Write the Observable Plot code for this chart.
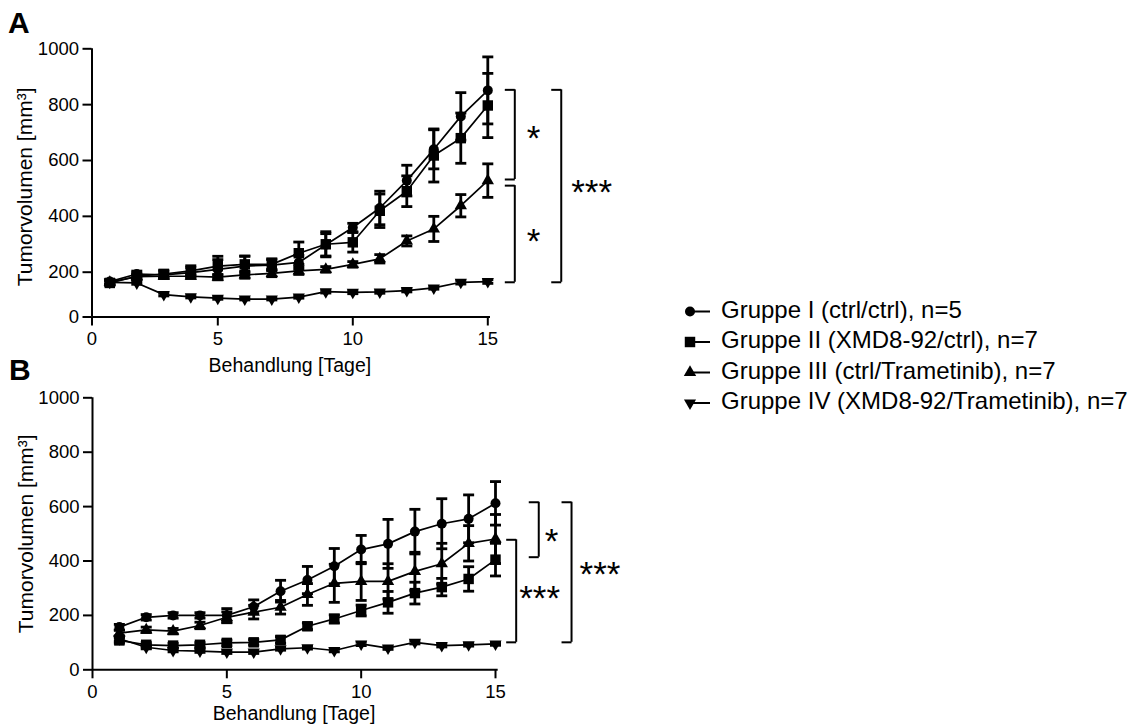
<!DOCTYPE html>
<html>
<head>
<meta charset="utf-8">
<script src="https://cdn.jsdelivr.net/npm/d3@7"></script>
<script src="https://cdn.jsdelivr.net/npm/@observablehq/plot@0.6"></script>
<style>
  html, body { margin: 0; padding: 0; background: #fff; }
  #wrap { position: relative; width: 1146px; height: 726px; overflow: hidden; background: #fff;
          font-family: "Liberation Sans", Arial, sans-serif; color: #000; }
  .abs { position: absolute; left: 0; }
  .letter { position: absolute; font-weight: bold; font-size: 30px; line-height: 30px; }
  #wrap svg [aria-label^="x-axis"] line, #wrap svg [aria-label^="x-axis"] path,
  #wrap svg [aria-label^="y-axis"] line, #wrap svg [aria-label^="y-axis"] path { stroke-width: 2px; }
</style>
</head>
<body>
<div id="wrap">
  <div id="panelA" class="abs" style="top:0px"></div>
  <div id="panelB" class="abs" style="top:382px"></div>
  <div id="legend" class="abs" style="left:680px; top:290px"></div>
  <div class="letter" style="left:8px; top:8px">A</div>
  <div class="letter" style="left:9px; top:355px">B</div>
</div>
<script>
// ---------- data ----------
const days = [1, 2, 3, 4, 5, 6, 7, 8, 9, 10, 11, 12, 13, 14, 15];
const groups = [
  "Gruppe I (ctrl/ctrl), n=5",
  "Gruppe II (XMD8-92/ctrl), n=7",
  "Gruppe III (ctrl/Trametinib), n=7",
  "Gruppe IV (XMD8-92/Trametinib), n=7"
];
const xTicks = [0, 5, 10, 15];
const yTicks = [0, 200, 400, 600, 800, 1000];
const xLabel = "Behandlung [Tage]";
const yLabel = "Tumorvolumen [mm³]";

// Panel A: mean tumour volume and error per group
const meanA_I   = [158, 192, 188, 198, 210, 222, 225, 235, 298, 360, 430, 528, 640, 758, 851];
const errA_I    = [10, 12, 15, 18, 35, 35, 20, 25, 40, 15, 60, 55, 70, 85, 120];
const meanA_II  = [152, 182, 192, 205, 222, 228, 228, 268, 300, 307, 420, 490, 618, 680, 797];
const errA_II   = [12, 12, 15, 18, 35, 30, 20, 40, 45, 35, 60, 55, 95, 90, 115];
const meanA_III = [155, 180, 182, 182, 178, 188, 195, 205, 210, 228, 248, 312, 355, 438, 528];
const errA_III  = [8, 10, 10, 10, 12, 15, 15, 15, 10, 10, 15, 18, 45, 40, 60];
const meanA_IV  = [155, 152, 100, 90, 84, 80, 80, 89, 113, 110, 112, 118, 130, 155, 158];
const errA_IV   = [8, 6, 6, 5, 5, 4, 4, 5, 6, 6, 6, 6, 6, 8, 8];

// Panel B
const meanB_I   = [157, 193, 200, 200, 200, 232, 289, 330, 381, 442, 463, 508, 537, 555, 612];
const errB_I    = [10, 10, 10, 10, 25, 25, 40, 50, 65, 52, 90, 82, 92, 88, 80];
const meanB_II  = [108, 92, 89, 92, 99, 101, 110, 160, 187, 218, 248, 282, 304, 334, 405];
const errB_II   = [10, 8, 8, 8, 10, 10, 12, 12, 15, 20, 40, 40, 32, 45, 60];
const meanB_III = [135, 147, 142, 163, 193, 212, 230, 277, 318, 325, 325, 362, 390, 465, 481];
const errB_III  = [10, 10, 10, 12, 20, 25, 25, 40, 70, 70, 65, 70, 75, 65, 90];
const meanB_IV  = [114, 83, 71, 69, 65, 65, 77, 81, 71, 95, 80, 101, 89, 92, 95];
const errB_IV   = [8, 6, 5, 5, 5, 5, 5, 5, 5, 6, 5, 6, 5, 5, 5];

// significance brackets (data units: day position, volume range)
const brA_top    = [853, 510, 853];
const brA_bottom = [532, 155, 155];
const brA_day    = [16.0, 16.0, 17.72];
const brA_label  = ["*", "*", "***"];
const brB_top    = [616, 478, 616];
const brB_bottom = [414, 101, 101];
const brB_day    = [16.61, 15.77, 17.83];
const brB_label  = ["*", "***", "***"];

// Panel A axes are drawn with a compressed first segment (0–1 day, 0–200 mm³),
// so its values pass through these piecewise-linear axis mappings.
const axisA_x = d => d <= 1 ? d * (17.8 / 27) : d - 1 + 17.8 / 27;
const axisA_y = v => v <= 200 ? v * (44.8 / 55.85) : v - 200 + 200 * (44.8 / 55.85);
const identity = v => v;

// ---------- symbols ----------
const triDown = {
  draw(ctx, size) {
    const y = -Math.sqrt(size / (Math.sqrt(3) * 3));
    ctx.moveTo(0, -y * 2);
    ctx.lineTo(-Math.sqrt(3) * y, y);
    ctx.lineTo(Math.sqrt(3) * y, y);
    ctx.closePath();
  }
};
const capSym = {
  draw(ctx, size) {
    const r = Math.sqrt(size / Math.PI);
    ctx.moveTo(-r, 0); ctx.lineTo(r, 0);
  }
};
const leftTick = {
  draw(ctx, size) {
    const r = Math.sqrt(size / Math.PI);
    ctx.moveTo(-r, 0); ctx.lineTo(0, 0);
  }
};
const symbols = [d3.symbolCircle, d3.symbolSquare, d3.symbolTriangle, triDown];
const radii = [5, 5.9, 4.6, 4.5];

const FONT = "Liberation Sans, Arial, sans-serif";

function makePanel(p) {
  const fx = p.fx, fy = p.fy;
  const rows = [];
  p.means.forEach((arr, g) => arr.forEach((m, i) => rows.push({g, day: days[i], mean: m, err: p.errs[g][i]})));
  const br = p.bTop.map((t, i) => ({top: t, bottom: p.bBottom[i], day: p.bDay[i], label: p.bLabel[i]}));
  const ends = br.flatMap(b => [{day: b.day, v: b.top}, {day: b.day, v: b.bottom}]);
  const xFmt = new Map(xTicks.map(t => [fx(t), String(t)]));
  const yFmt = new Map(yTicks.map(t => [fy(t), String(t)]));

  const marks = [
    Plot.ruleY([0], {y: () => fy(0), x1: () => fx(0), x2: () => fx(15.1), strokeWidth: 2}),
    Plot.ruleX([0], {x: () => fx(0), y1: () => fy(0), y2: () => fy(1000), strokeWidth: 2})
  ];
  for (let g = 0; g < groups.length; g++) {
    const r = rows.filter(d => d.g === g);
    const X = d => fx(d.day);
    marks.push(
      Plot.line(r, {x: X, y: d => fy(d.mean), stroke: "black", strokeWidth: 1.7}),
      Plot.ruleX(r, {x: X, y1: d => fy(d.mean - d.err), y2: d => fy(d.mean + d.err), stroke: "black", strokeWidth: 2.8}),
      Plot.dot(r, {x: X, y: d => fy(d.mean + d.err), symbol: capSym, r: 5.5, fill: "none", stroke: "black", strokeWidth: 2.8}),
      Plot.dot(r, {x: X, y: d => fy(d.mean - d.err), symbol: capSym, r: 5.5, fill: "none", stroke: "black", strokeWidth: 2.8}),
      Plot.dot(r, {x: X, y: d => fy(d.mean), symbol: symbols[g], r: radii[g], fill: "black", stroke: "none"})
    );
  }
  marks.push(
    Plot.ruleX(br, {x: d => fx(d.day), y1: d => fy(d.bottom), y2: d => fy(d.top), stroke: "black", strokeWidth: 2}),
    Plot.dot(ends, {x: d => fx(d.day), y: d => fy(d.v), symbol: leftTick, r: 10, fill: "none", stroke: "black", strokeWidth: 2})
  );
  // one label mark per bracket so each can carry its own pixel offset
  br.forEach((b, i) => {
    marks.push(Plot.text([b], {x: d => fx(d.day), y: d => fy((d.top + d.bottom) / 2), text: "label",
      textAnchor: "start", dx: p.starDx[i], dy: p.starDy[i], fontSize: 35, fontFamily: FONT}));
  });
  marks.push(
    Plot.text([xLabel], {frameAnchor: "bottom", textAnchor: "middle", lineAnchor: "bottom", dy: p.xLabelDy, fontSize: 19.5, fontFamily: FONT}),
    Plot.text([yLabel], {frameAnchor: "left", textAnchor: "middle", rotate: -90, dx: -66.5, dy: p.yLabelDy, fontSize: 21, fontFamily: FONT})
  );

  return Plot.plot({
    width: 1146,
    height: p.height,
    marginTop: p.marginTop,
    marginBottom: p.marginBottom,
    marginLeft: p.marginLeft,
    marginRight: p.marginRight,
    style: {fontFamily: FONT, fontSize: "18.5px", background: "transparent", color: "black", overflow: "visible"},
    x: {domain: [fx(0), fx(15)], ticks: xTicks.map(fx), tickFormat: t => xFmt.get(t), tickSize: 9, tickPadding: 6, label: null},
    y: {domain: [fy(0), fy(1000)], ticks: yTicks.map(fy), tickFormat: t => yFmt.get(t), tickSize: 9, tickPadding: 4, label: null},
    marks
  });
}

const plotA = makePanel({
  means: [meanA_I, meanA_II, meanA_III, meanA_IV],
  errs: [errA_I, errA_II, errA_III, errA_IV],
  bTop: brA_top, bBottom: brA_bottom, bDay: brA_day, bLabel: brA_label,
  starDx: [12, 12, 10], starDy: [4.4, 6.3, 5.7],
  fx: axisA_x, fy: axisA_y,
  height: 382, marginTop: 48.3, marginBottom: 65.5, marginLeft: 91.5, marginRight: 658.7,
  xLabelDy: 54.5, yLabelDy: 4
});
document.getElementById("panelA").appendChild(plotA);

const plotB = makePanel({
  means: [meanB_I, meanB_II, meanB_III, meanB_IV],
  errs: [errB_I, errB_II, errB_III, errB_IV],
  bTop: brB_top, bBottom: brB_bottom, bDay: brB_day, bLabel: brB_label,
  starDx: [6, 3, 8], starDy: [11.9, 7.9, 2.9],
  fx: identity, fy: identity,
  height: 344, marginTop: 15.3, marginBottom: 56.7, marginLeft: 92, marginRight: 651,
  xLabelDy: 49.7, yLabelDy: 0
});
document.getElementById("panelB").appendChild(plotB);

// ---------- legend ----------
const leg = d3.select("#legend").append("svg")
  .attr("width", 466).attr("height", 140)
  .style("font-family", FONT).style("overflow", "visible");
groups.forEach((name, i) => {
  const cy = 21.5 + i * 30.5;
  const row = leg.append("g").attr("transform", `translate(0,${cy})`);
  row.append("line").attr("x1", 10).attr("x2", 30).attr("y1", 0).attr("y2", 0)
    .attr("stroke", "black").attr("stroke-width", 2);
  row.append("path").attr("transform", "translate(10,0)")
    .attr("d", d3.symbol(symbols[i], Math.PI * radii[i] * radii[i])())
    .attr("fill", "black");
  row.append("text").attr("x", 41).attr("y", 6.2).attr("font-size", 24).attr("fill", "black").text(name);
});
</script>
</body>
</html>
